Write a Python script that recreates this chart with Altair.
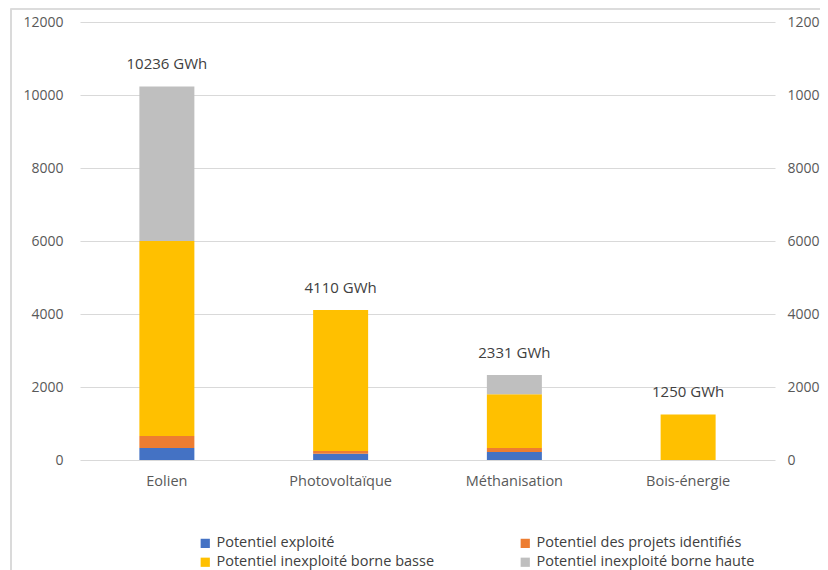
import altair as alt
import pandas as pd

categories = ["Eolien", "Photovoltaïque", "Méthanisation", "Bois-énergie"]
series = ["Potentiel exploité", "Potentiel des projets identifiés",
          "Potentiel inexploité borne basse", "Potentiel inexploité borne haute"]
exploite = [330, 170, 220, 0]
projets = [330, 80, 110, 0]
borne_basse = [5340, 3860, 1470, 1250]
borne_haute = [4236, 0, 531, 0]
totals = [10236, 4110, 2331, 1250]
colors = ["#4472C4", "#ED7D31", "#FFC000", "#BFBFBF"]

rows = []
for i, c in enumerate(categories):
    for j, (s, vals) in enumerate(zip(series, [exploite, projets, borne_basse, borne_haute])):
        rows.append({"cat": c, "serie": s, "val": vals[i], "ord": j})
df = pd.DataFrame(rows)
df_tot = pd.DataFrame({"cat": categories, "total": totals,
                       "label": [f"{t} GWh" for t in totals]})

# legend fills column-first: reorder so that rows read as in the reference
legend_order = [series[0], series[2], series[1], series[3]]
legend_colors = [colors[0], colors[2], colors[1], colors[3]]

FONT = "Open Sans"
xscale = alt.Scale(domain=categories, paddingInner=0, paddingOuter=0)
yscale = alt.Scale(domain=[0, 12000], nice=False)
ticks = list(range(0, 12001, 2000))

bars = alt.Chart(df).mark_bar(size=55).encode(
    x=alt.X("cat:N", scale=xscale, sort=categories,
            axis=alt.Axis(title=None, labelAngle=0, domain=False, ticks=False,
                          labelPadding=14, labelFontSize=14.5, labelColor="#595959",
                          labelFont=FONT)),
    y=alt.Y("val:Q", stack="zero", scale=yscale,
            axis=alt.Axis(title=None, orient="left", values=ticks, format="d",
                          grid=True, gridColor="#D9D9D9", gridWidth=1.2,
                          domain=False, ticks=False,
                          labelPadding=17, labelFontSize=14, labelColor="#595959",
                          labelFont=FONT)),
    color=alt.Color("serie:N", scale=alt.Scale(domain=legend_order, range=legend_colors),
                    legend=alt.Legend(title=None, orient="none", legendX=118, legendY=514,
                                      columns=2, columnPadding=83, rowPadding=4,
                                      symbolType="square", symbolSize=85,
                                      symbolStrokeWidth=0, labelFontSize=14.5,
                                      labelColor="#404040", labelFont=FONT,
                                      labelLimit=400)),
    order=alt.Order("ord:Q"),
)

text = alt.Chart(df_tot).mark_text(baseline="alphabetic", dy=-17, fontSize=15,
                                   color="#404040", font=FONT).encode(
    x=alt.X("cat:N", scale=xscale, sort=categories),
    y=alt.Y("total:Q", scale=yscale,
            axis=alt.Axis(title=None, orient="right", values=ticks, format="d",
                          grid=False, domain=False, ticks=False,
                          labelPadding=12, labelFontSize=14, labelColor="#595959",
                          labelFont=FONT)),
    text="label:N",
)

frame = alt.Chart(df_tot).mark_rect(fill=None, stroke="#D9D9D9", strokeWidth=1.2).encode(
    x=alt.value(-69), x2=alt.value(800), y=alt.value(-13), y2=alt.value(620)
)

chart = alt.layer(frame, bars, text).resolve_axis(y="independent").properties(
    width=695, height=438,
    autosize=alt.AutoSizeParams(type="none"),
    padding={"left": 72, "top": 14, "right": 45, "bottom": 110},
).configure_view(stroke=None)

chart.save("out.html", embed_options={"renderer": "svg", "actions": False})
